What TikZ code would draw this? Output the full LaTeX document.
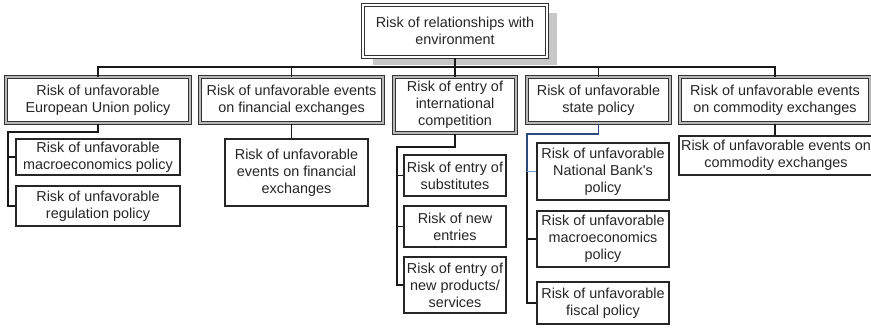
\documentclass[tikz,border=0pt]{standalone}
\usepackage{fontspec}
\setmainfont{Liberation Sans}
\usetikzlibrary{shadows}

\begin{document}
\begin{tikzpicture}[x=1pt,y=-1pt,
  font=\fontsize{14.4}{17}\selectfont,
  every node/.style={align=center,inner sep=0pt,text=black!85},
  rootbox/.style={draw=black!80,line width=1.1pt,double=white,double distance=1.1pt,fill=white,
    drop shadow={shadow xshift=10pt,shadow yshift=-8pt,fill=black!22,opacity=1}},
  groupbox/.style={draw=black!80,line width=1pt,double=gray!55,double distance=1.2pt,fill=white},
  riskbox/.style={draw=black!85,line width=1.2pt,fill=white},
  link/.style={draw=black!90,line width=1.1pt},
  bluelink/.style={draw={rgb,255:red,45;green,75;blue,125},line width=1.1pt},
  paleblue/.style={draw={rgb,255:red,120;green,155;blue,200},line width=1pt}]
\useasboundingbox[fill=white] (0,0) rectangle (871,327);
\node[rootbox,minimum width=184,minimum height=52] (root) at (455,31) {Risk of relationships with\\environment};
\node[groupbox,minimum width=184,minimum height=46] (eu) at (98,100) {Risk of unfavorable\\European Union policy};
\node[groupbox,minimum width=183,minimum height=46] (fin) at (291.5,100) {Risk of unfavorable events\\on financial exchanges};
\node[groupbox,minimum width=122,minimum height=56] (comp) at (455,105) {Risk of entry of\\international\\competition};
\node[groupbox,minimum width=143,minimum height=46] (state) at (598.5,100) {Risk of unfavorable\\state policy};
\node[groupbox,minimum width=190,minimum height=46] (comm) at (775,100) {Risk of unfavorable events\\on commodity exchanges};
\node[riskbox,minimum width=164,minimum height=36] (eumacro) at (98,157) {Risk of unfavorable\\macroeconomics policy};
\node[riskbox,minimum width=164,minimum height=40] (eureg) at (98,206) {Risk of unfavorable\\regulation policy};
\node[riskbox,minimum width=143,minimum height=67] (finsub) at (296.5,172.5) {Risk of unfavorable\\events on financial\\exchanges};
\node[riskbox,minimum width=102,minimum height=41] (subst) at (455,175.5) {Risk of entry of\\substitutes};
\node[riskbox,minimum width=102,minimum height=41] (newent) at (455,226.5) {Risk of new\\entries};
\node[riskbox,minimum width=102,minimum height=56] (newprod) at (455,285) {Risk of entry of\\new products/\\services};
\node[riskbox,minimum width=132,minimum height=57] (nbank) at (603,171.5) {Risk of unfavorable\\National Bank\textquotesingle s\\policy};
\node[riskbox,minimum width=132,minimum height=56] (stmacro) at (603,239) {Risk of unfavorable\\macroeconomics\\policy};
\node[riskbox,minimum width=132,minimum height=42] (fiscal) at (603,303) {Risk of unfavorable\\fiscal policy};
\node[riskbox,minimum width=194,minimum height=39] (commsub) at (776,155.5) {Risk of unfavorable events on\\commodity exchanges};
\coordinate (bus) at (455,67);
\coordinate (eurail) at (8,132);
\coordinate (comprail) at (397,147);
\coordinate (staterail) at (527,134);
\draw[link] (root.south) -- (comp.north);
\draw[link] (eu.north) |- (bus) -| (comm.north);
\draw[link] (fin.north) -- (fin.north |- bus);
\draw[link] (state.north) -- (state.north |- bus);
\draw[link] (eu.south) |- (eurail) |- (eureg.west);
\draw[link] (eurail |- eumacro.west) -- (eumacro.west);
\draw[link] (fin.south) -- (fin.south |- finsub.north);
\draw[link] (comp.south) |- (comprail) |- (newprod.west);
\draw[link] (comprail |- subst.west) -- (subst.west);
\draw[link] (comprail |- newent.west) -- (newent.west);
\draw[bluelink] (state.south) |- (staterail) -- (staterail |- nbank.west);
\draw[paleblue] (staterail |- nbank.west) -- (nbank.west);
\draw[link] (staterail |- nbank.west) |- (fiscal.west);
\draw[link] (staterail |- stmacro.west) -- (stmacro.west);
\draw[link] (comm.south) -- (comm.south |- commsub.north);
\end{tikzpicture}
\end{document}
